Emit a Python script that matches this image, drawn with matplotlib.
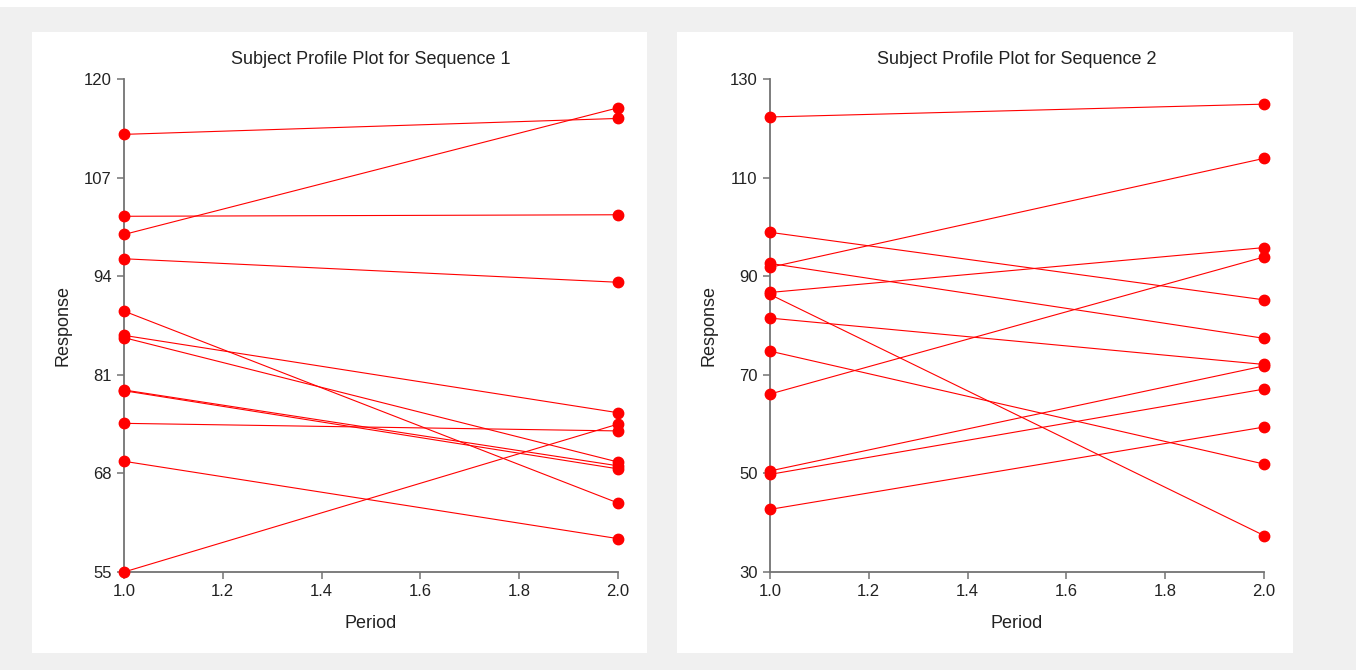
import matplotlib
matplotlib.use("Agg")
from matplotlib import pyplot as plt
from matplotlib.patches import Rectangle

plt.rcParams["font.family"] = ["Liberation Sans", "DejaVu Sans"]

periods = [1.0, 2.0]

# Sequence 1: response in period 1 and period 2, one entry per subject
seq1_p1 = [112.7, 99.5, 101.9, 96.3, 89.4, 86.2, 85.9, 79.0, 78.9, 74.6, 69.6, 55.0]
seq1_p2 = [114.8, 116.2, 102.1, 93.2, 64.1, 76.0, 69.5, 69.0, 68.6, 73.6, 59.4, 74.5]

# Sequence 2
seq2_p1 = [122.3, 98.9, 92.6, 91.8, 86.7, 86.3, 81.5, 74.8, 66.1, 50.5, 49.8, 42.7]
seq2_p2 = [124.9, 85.2, 77.4, 113.9, 95.8, 37.4, 72.1, 51.9, 93.9, 71.8, 67.1, 59.4]

seq1_yticks = [55, 68, 81, 94, 107, 120]
seq2_yticks = [30, 50, 70, 90, 110, 130]
xticks = [1.0, 1.2, 1.4, 1.6, 1.8, 2.0]

W, H = 1356, 670
fig = plt.figure(figsize=(W / 100, H / 100), dpi=100, facecolor="white")

# grey backdrop and white panels (pixel coords -> figure fraction)
def rect(x0, y0, x1, y1, color):
    fig.patches.append(Rectangle((x0 / W, 1 - y1 / H), (x1 - x0) / W, (y1 - y0) / H,
                                 transform=fig.transFigure, facecolor=color,
                                 edgecolor="none", zorder=-10))

rect(0, 7, W, H, "#f0f0f0")
rect(32, 32, 647, 653, "white")
rect(677, 32, 1293, 653, "white")

grey = "#737373"
txt = "#222222"


def panel(x0, x1, p1, p2, yticks, title):
    ax = fig.add_axes([x0 / W, 1 - 572 / H, (x1 - x0) / W, (572 - 79) / H])
    ax.set_facecolor("none")
    for a, b in zip(p1, p2):
        ax.plot(periods, [a, b], color="red", lw=0.8, marker="o", ms=7.5,
                mec="red", mfc="red", clip_on=False, zorder=3)
    ax.set_xlim(1.0, 2.0)
    ax.set_ylim(yticks[0], yticks[-1])
    ax.set_xticks(xticks)
    ax.set_xticklabels([f"{t:.1f}" for t in xticks])
    ax.set_yticks(yticks)
    for s in ["top", "right"]:
        ax.spines[s].set_visible(False)
    for s in ["left", "bottom"]:
        ax.spines[s].set_color(grey)
        ax.spines[s].set_linewidth(1.3)
    ax.tick_params(colors=grey, labelcolor=txt, labelsize=12,
                   length=5, width=1.1, pad=4)
    ax.set_title(title, fontsize=13, color=txt, pad=10.5)
    ax.set_xlabel("Period", fontsize=13, color=txt, labelpad=11)
    ax.set_ylabel("Response", fontsize=13, color=txt, labelpad=9)
    return ax


panel(124, 618, seq1_p1, seq1_p2, seq1_yticks, "Subject Profile Plot for Sequence 1")
panel(770, 1264, seq2_p1, seq2_p2, seq2_yticks, "Subject Profile Plot for Sequence 2")

fig.savefig("out.png", dpi=100, facecolor=fig.get_facecolor())
